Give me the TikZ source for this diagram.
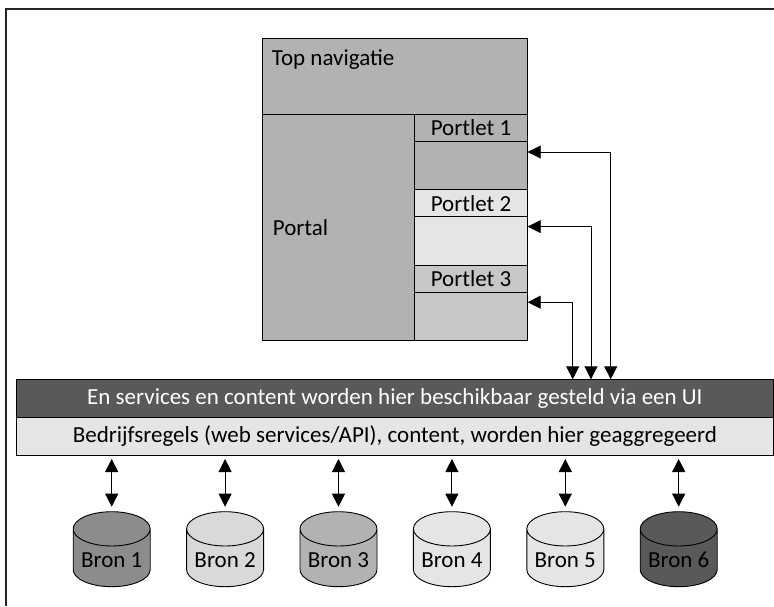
\documentclass[tikz,border=0pt]{standalone}
\usepackage{fontspec}
\setmainfont{Carlito}
\usepackage{xcolor}
\usepackage{tikz}
\usetikzlibrary{positioning}
\usetikzlibrary{arrows.meta,shapes.geometric}
\usetikzlibrary{calc}
\tikzstyle{box}=[rectangle,draw=black,line width=0.9pt,inner sep=0pt,outer sep=0pt,anchor=north west,font=\fontsize{23}{23}\selectfont]
\tikzstyle{txt}=[font=\fontsize{23}{23}\selectfont,inner sep=0pt]
\tikzstyle{bron}=[cylinder,shape border rotate=90,draw=black,line width=0.9pt,aspect=0.56,minimum width=77pt,minimum height=75pt,inner sep=0pt,outer sep=0pt,text height=18.4pt,text depth=0pt,anchor=shape center,font=\fontsize{23}{23}\selectfont]
\tikzstyle{link}=[draw,line width=0.9pt,{Triangle[length=13pt,width=13pt]}-{Triangle[length=13pt,width=13pt]}]

\begin{document}
\begin{tikzpicture}[x=1pt,y=-1pt]
  \useasboundingbox (0,0) rectangle (774,606);

  % frame round the figure
  \draw[line width=2pt,black!85] (774,9) -| (6,606);

  % portal page
  \node[box,fill=black!30,minimum width=265pt,minimum height=75.7pt] (topnav) at (262.7,38.3) {};
  \node[box,fill=black!30,minimum width=151.6pt,minimum height=226.7pt] (portal) at (262.7,114) {};
  \node[txt,anchor=north west] (topnavtxt) at ([xshift=9pt,yshift=-11pt]topnav.north west) {Top navigatie};
  \node[txt,anchor=west] (portaltxt) at ([xshift=10pt]portal.west) {Portal};

  \foreach \i/\col in {1/black!30, 2/black!10, 3/black!22} {
     \node[box,fill=\col,minimum width=113.4pt,minimum height=27pt] (head\i) at (414.3,{114+(\i-1)*75.6}) {Portlet \i};
     \node[box,fill=\col,minimum width=113.4pt,minimum height=48.6pt] (body\i) at (head\i.south west) {};
  }

  % the two layers
  \node[box,fill=black!65,text=white,minimum width=756.3pt,minimum height=38pt] (uiband) at (16.7,379.3) {En services en content worden hier beschikbaar gesteld via een UI};
  \node[box,fill=black!10,minimum width=756.3pt,minimum height=37.7pt] (ruleband) at (16.7,417.3) {Bedrijfsregels (web services/API), content, worden hier geaggregeerd};

  % sources
  \foreach \i/\col in {1/black!45, 2/black!15, 3/black!30, 4/black!10, 5/black!10, 6/black!65}
     \node[bron,fill=\col] (bron\i) at ({111.7+(\i-1)*113.4},549.2) {Bron \i};

  \foreach \i in {1,...,6}
     \path[link,shorten <=4pt,shorten >=5pt] (ruleband.south -| bron\i.north) -- (bron\i.north);

  % portlets to the UI layer
  \foreach \i/\x/\dy in {1/610.7/11, 2/591/10, 3/572.7/10} {
     \coordinate (drop\i) at (\x,379.3);
     \path[link] ([yshift=-\dy pt]body\i.north east) -| (drop\i);
  }

\end{tikzpicture}
\end{document}
